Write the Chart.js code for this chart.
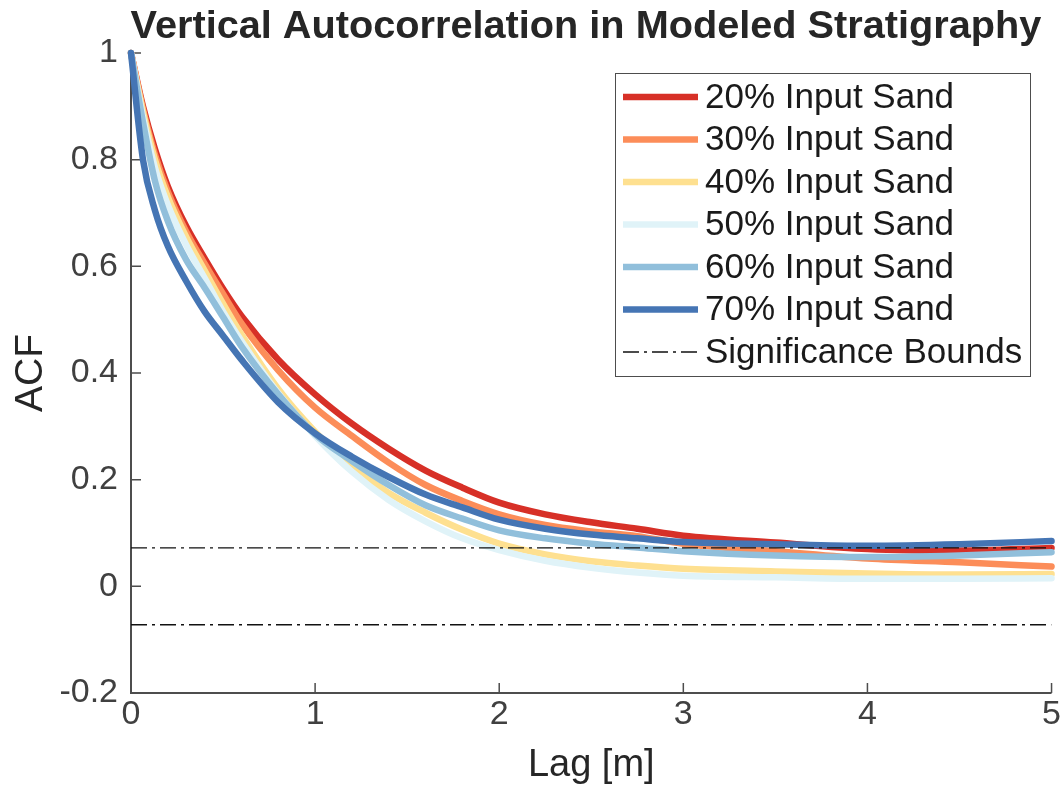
<!DOCTYPE html>
<html>
<head>
<meta charset="utf-8">
<title>Vertical Autocorrelation in Modeled Stratigraphy</title>
<script src="https://cdn.jsdelivr.net/npm/chart.js@4/dist/chart.umd.min.js"></script>
<style>
  html, body { margin: 0; padding: 0; background: #ffffff; }
  #wrap { width: 1062px; height: 796px; position: relative; }
</style>
</head>
<body>
<div id="wrap"><canvas id="acf" width="1062" height="796"></canvas></div>
<script>
// Lag positions (m) shared by every ACF series
const lags = [0, 0.065, 0.13, 0.2, 0.3, 0.4, 0.5, 0.6, 0.8, 1.0, 1.2, 1.4, 1.6, 1.8, 2.0, 2.25, 2.5, 2.75, 3.0, 3.5, 4.0, 4.5, 5.0];

// Autocorrelation per input sand fraction
const sand20 = [1, 0.90, 0.82, 0.75, 0.675, 0.615, 0.558, 0.507, 0.425, 0.36, 0.305, 0.258, 0.217, 0.185, 0.157, 0.135, 0.12, 0.108, 0.095, 0.082, 0.07, 0.067, 0.072];
const sand30 = [1, 0.895, 0.81, 0.74, 0.665, 0.605, 0.548, 0.493, 0.405, 0.335, 0.282, 0.232, 0.19, 0.16, 0.135, 0.115, 0.103, 0.094, 0.08, 0.066, 0.052, 0.045, 0.037];
const sand40 = [1, 0.89, 0.80, 0.73, 0.655, 0.592, 0.53, 0.472, 0.37, 0.29, 0.225, 0.175, 0.138, 0.106, 0.08, 0.06, 0.047, 0.039, 0.033, 0.028, 0.024, 0.022, 0.023];
const sand50 = [1, 0.88, 0.785, 0.715, 0.64, 0.578, 0.515, 0.46, 0.362, 0.282, 0.215, 0.162, 0.122, 0.09, 0.068, 0.048, 0.035, 0.026, 0.02, 0.017, 0.014, 0.014, 0.015];
const sand60 = [1, 0.87, 0.76, 0.685, 0.612, 0.56, 0.505, 0.45, 0.36, 0.285, 0.235, 0.19, 0.152, 0.127, 0.105, 0.09, 0.08, 0.073, 0.066, 0.058, 0.055, 0.058, 0.064];
const sand70 = [1, 0.80, 0.705, 0.638, 0.572, 0.515, 0.47, 0.425, 0.345, 0.287, 0.243, 0.205, 0.172, 0.148, 0.125, 0.108, 0.097, 0.09, 0.083, 0.079, 0.076, 0.079, 0.085];

const seriesLabels = ['20% Input Sand', '30% Input Sand', '40% Input Sand', '50% Input Sand', '60% Input Sand', '70% Input Sand'];
const seriesValues = [sand20, sand30, sand40, sand50, sand60, sand70];
const seriesColors = ['#d73027', '#fc8d59', '#fee090', '#e0f3f8', '#91bfdb', '#4575b4'];

// Significance bounds (±) and the lag range they span
const boundValue = 0.072;
const boundLags = [0, 5];
const boundLabel = 'Significance Bounds';

// Axis ticks and titles
const xTicks = [0, 1, 2, 3, 4, 5];
const yTicks = [-0.2, 0, 0.2, 0.4, 0.6, 0.8, 1];
const titleText = 'Vertical Autocorrelation in Modeled Stratigraphy';
const xTitle = 'Lag [m]';
const yTitle = 'ACF';

const FONT = "'Liberation Sans', Arial, Helvetica, sans-serif";
const AXIS_COLOR = '#4d4d4d';
const TEXT_COLOR = '#262626';
const DASH_DOT = [16, 5, 3, 5];

const datasets = seriesValues.map((vals, i) => ({
  label: seriesLabels[i],
  data: lags.map((x, k) => ({ x: x, y: vals[k] })),
  borderColor: seriesColors[i],
  backgroundColor: seriesColors[i],
  borderWidth: 6.5,
  pointRadius: 0,
  cubicInterpolationMode: 'monotone',
  borderCapStyle: 'round',
  borderJoinStyle: 'round',
  clip: 10,
  order: seriesValues.length - i
}));

[boundValue, -boundValue].forEach((b, j) => {
  datasets.push({
    label: boundLabel,
    isBound: true,
    showInLegend: j === 0,
    data: boundLags.map(x => ({ x: x, y: b })),
    borderColor: '#111111',
    borderWidth: 1.3,
    borderDash: DASH_DOT,
    pointRadius: 0,
    order: -1
  });
});

// Axis lines with inward tick marks, drawn under the curves
const axesPlugin = {
  id: 'axesInward',
  beforeDatasetsDraw(chart) {
    const { ctx, chartArea: a, scales } = chart;
    ctx.save();
    ctx.strokeStyle = AXIS_COLOR;
    ctx.lineWidth = 2;
    ctx.beginPath();
    ctx.moveTo(a.left, a.top);
    ctx.lineTo(a.left, a.bottom);
    ctx.lineTo(a.right, a.bottom);
    ctx.stroke();
    ctx.lineWidth = 1.5;
    ctx.beginPath();
    xTicks.forEach(v => {
      const px = scales.x.getPixelForValue(v);
      ctx.moveTo(px, a.bottom);
      ctx.lineTo(px, a.bottom - 10);
    });
    yTicks.forEach(v => {
      const py = scales.y.getPixelForValue(v);
      ctx.moveTo(a.left, py);
      ctx.lineTo(a.left + 10, py);
    });
    ctx.stroke();
    ctx.restore();
  }
};

// Title, axis titles and the boxed legend
const textPlugin = {
  id: 'textAndLegend',
  afterDraw(chart) {
    const { ctx, chartArea: a } = chart;
    ctx.save();
    ctx.fillStyle = TEXT_COLOR;
    ctx.textAlign = 'center';
    ctx.textBaseline = 'alphabetic';
    ctx.font = 'bold 39.7px ' + FONT;
    ctx.fillText(titleText, 586, 38);

    ctx.font = '38px ' + FONT;
    ctx.fillText(xTitle, (a.left + a.right) / 2, 776);

    ctx.save();
    ctx.translate(42, 373);
    ctx.rotate(-Math.PI / 2);
    ctx.font = '39px ' + FONT;
    ctx.fillText(yTitle, 0, 0);
    ctx.restore();

    // legend box
    const box = { x: 615.5, y: 73.5, w: 415, h: 303 };
    ctx.fillStyle = '#ffffff';
    ctx.fillRect(box.x, box.y, box.w, box.h);
    ctx.strokeStyle = '#4d4d4d';
    ctx.lineWidth = 1;
    ctx.strokeRect(box.x, box.y, box.w, box.h);

    const entries = chart.data.datasets.filter(d => !d.isBound || d.showInLegend);
    const rowTop = 97, rowStep = 42.5;
    ctx.textAlign = 'left';
    ctx.textBaseline = 'middle';
    ctx.font = '35px ' + FONT;
    entries.forEach((d, i) => {
      const y = rowTop + i * rowStep;
      ctx.save();
      ctx.strokeStyle = d.borderColor;
      ctx.lineWidth = d.isBound ? 1.3 : 6.5;
      ctx.setLineDash(d.isBound ? DASH_DOT : []);
      ctx.beginPath();
      ctx.moveTo(623, y);
      ctx.lineTo(698, y);
      ctx.stroke();
      ctx.restore();
      ctx.fillStyle = '#1a1a1a';
      ctx.fillText(d.label, 705, y + 1);
    });
    ctx.restore();
  }
};

new Chart(document.getElementById('acf'), {
  type: 'line',
  data: { datasets: datasets },
  options: {
    responsive: false,
    animation: false,
    devicePixelRatio: 1,
    layout: { padding: { top: 53, right: 10, left: 0, bottom: 0 } },
    plugins: {
      legend: { display: false },
      title: { display: false },
      tooltip: { enabled: false }
    },
    scales: {
      x: {
        type: 'linear',
        min: 0,
        max: 5,
        afterFit(scale) { scale.height = 103; },
        afterBuildTicks(scale) { scale.ticks = xTicks.map(v => ({ value: v })); },
        grid: { display: false, drawTicks: false },
        border: { display: false },
        ticks: {
          padding: 1,
          color: '#404040',
          font: { family: FONT, size: 34 },
          maxRotation: 0,
          autoSkip: false,
          callback: v => String(v)
        }
      },
      y: {
        type: 'linear',
        min: -0.2,
        max: 1,
        afterFit(scale) { scale.width = 131; },
        afterBuildTicks(scale) { scale.ticks = yTicks.map(v => ({ value: v })); },
        grid: { display: false, drawTicks: false },
        border: { display: false },
        ticks: {
          padding: 13,
          color: '#404040',
          font: { family: FONT, size: 34 },
          autoSkip: false,
          callback: v => String(Math.round(v * 10) / 10)
        }
      }
    }
  },
  plugins: [axesPlugin, textPlugin]
});
</script>
</body>
</html>
